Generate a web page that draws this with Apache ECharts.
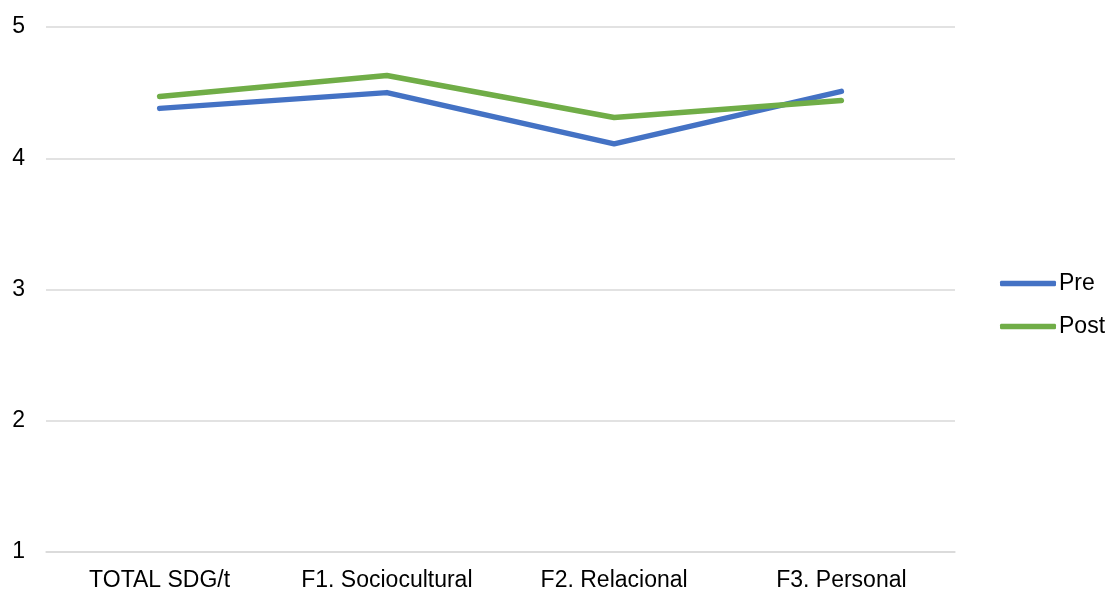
<!DOCTYPE html>
<html>
<head>
<meta charset="utf-8">
<script src="https://cdn.jsdelivr.net/npm/echarts@6/dist/echarts.min.js"></script>
<style>
  html, body { margin: 0; padding: 0; background: #ffffff; }
  #chart { width: 1105px; height: 592px; }
</style>
</head>
<body>
<div id="chart"></div>
<script>
// Factor scores before and after
const categories = ['TOTAL SDG/t', 'F1. Sociocultural', 'F2. Relacional', 'F3. Personal'];
const preValues = [4.38, 4.50, 4.11, 4.51];
const postValues = [4.47, 4.63, 4.31, 4.44];
const seriesNames = ['Pre', 'Post'];

const FONT = '"Liberation Sans", Arial, sans-serif';
const chart = echarts.init(document.getElementById('chart'));

function lineSeries(name, data, color) {
  return {
    name: name,
    type: 'line',
    data: data,
    symbol: 'none',
    lineStyle: { color: color, width: 5.5, cap: 'round', join: 'round' },
    itemStyle: { color: color },
    emphasis: { disabled: true }
  };
}

chart.setOption({
  animation: false,
  backgroundColor: '#ffffff',
  grid: { left: 46, right: 150, top: 27, bottom: 37, containLabel: false },
  legend: {
    orient: 'vertical',
    left: 995,
    top: 267,
    icon: 'roundRect',
    itemWidth: 56,
    itemHeight: 5.5,
    itemGap: 20,
    data: seriesNames,
    textStyle: { fontFamily: FONT, fontSize: 23, color: '#000000', padding: [0, 0, 0, -2] }
  },
  xAxis: {
    type: 'category',
    data: categories,
    boundaryGap: true,
    axisLine: { show: true, lineStyle: { color: '#d9d9d9', width: 1.5 } },
    axisTick: { show: false },
    axisLabel: { fontFamily: FONT, fontSize: 23, color: '#000000', margin: 17, interval: 0 }
  },
  yAxis: {
    type: 'value',
    min: 1,
    max: 5,
    interval: 1,
    axisLine: { show: false },
    axisTick: { show: false },
    axisLabel: { fontFamily: FONT, fontSize: 23, color: '#000000', margin: 21 },
    splitLine: { lineStyle: { color: '#d9d9d9', width: 1.5 } }
  },
  series: [
    lineSeries(seriesNames[0], preValues, '#4472C4'),
    lineSeries(seriesNames[1], postValues, '#70AD47')
  ]
});
</script>
</body>
</html>
